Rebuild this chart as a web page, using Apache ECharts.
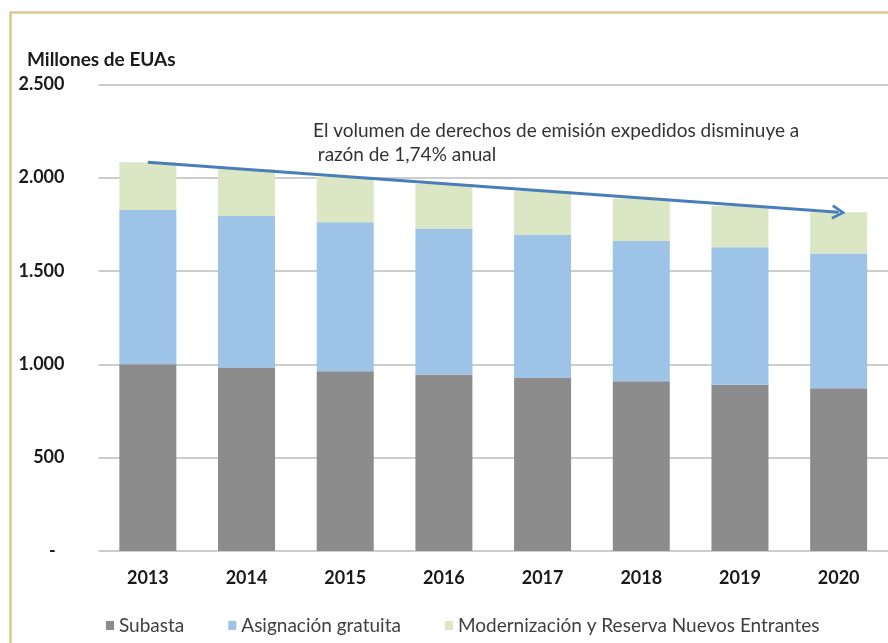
<!DOCTYPE html>
<html>
<head>
<meta charset="utf-8">
<script src="https://cdn.jsdelivr.net/npm/echarts@6/dist/echarts.min.js"></script>
<style>
html,body{margin:0;padding:0;background:#fff;}
#c{width:888px;height:643px;}
</style>
</head>
<body>
<div id="c"></div>
<script>
var categories = ['2013','2014','2015','2016','2017','2018','2019','2020'];
var subasta = [1000, 980, 963, 946, 927, 909, 891, 872];
var asignacion = [827, 815, 798, 781, 766, 752, 736, 721];
var modernizacion = [256, 250, 244, 239, 235, 227, 221, 221];
var yTicks = [0, 500, 1000, 1500, 2000, 2500];
var seriesNames = ['Subasta', 'Asignación gratuita', 'Modernización y Reserva Nuevos Entrantes'];
var titleText = 'Millones de EUAs';
var noteLines = ['El volumen de derechos de emisión expedidos disminuye a', ' razón de 1,74% anual'];

var totals = categories.map(function(c, i){ return subasta[i] + asignacion[i] + modernizacion[i]; });
var last = categories.length - 1;

function fmt(v){
  if (v === 0) return '-  ';
  var s = String(v);
  return s.length > 3 ? s.slice(0, s.length-3) + '.' + s.slice(s.length-3) : s;
}

var FONT = 'Lato, "Open Sans", sans-serif';
var chart = echarts.init(document.getElementById('c'), null, {renderer:'canvas'});
chart.setOption({
  animation: false,
  backgroundColor: '#fff',
  textStyle: {fontFamily: FONT},
  grid: {left: 98.5, right: -6.5, top: 84.3, bottom: 92, containLabel: false},
  legend: {
    data: seriesNames,
    left: 101, top: 611,
    icon: 'rect', itemWidth: 8, itemHeight: 9, itemGap: 44,
    textStyle: {fontFamily: FONT, fontSize: 19, color: '#404040'}
  },
  xAxis: {
    type: 'category', data: categories,
    axisLine: {show: false}, axisTick: {show: false},
    axisLabel: {margin: 18, fontFamily: FONT, fontSize: 18, fontWeight: 'bold', color: '#1a1a1a'}
  },
  yAxis: {
    type: 'value', min: 0, max: 2500, interval: 500,
    axisLine: {show: false}, axisTick: {show: false},
    splitLine: {lineStyle: {color: '#bdbdbd', width: 1.6}},
    axisLabel: {margin: 34, fontFamily: FONT, fontSize: 18, fontWeight: 'bold', color: '#1a1a1a',
      formatter: function(v){ return fmt(v); },
      customValues: yTicks}
  },
  series: [
    {name: seriesNames[0], type: 'bar', stack: 't', barWidth: 57, data: subasta,
     itemStyle: {color: '#8c8c8c'}},
    {name: seriesNames[1], type: 'bar', stack: 't', barWidth: 57, data: asignacion,
     itemStyle: {color: '#9dc3e6'}},
    {name: seriesNames[2], type: 'bar', stack: 't', barWidth: 57, data: modernizacion,
     itemStyle: {color: '#dbe6c4'},
     markLine: {
       silent: true, z: 10,
       symbol: ['none', 'path://M0,9 L5,0 L10,9 L8.4,10 L5,3.6 L1.6,10 Z'],
       symbolSize: [15, 14],
       label: {show: false},
       lineStyle: {color: '#4a7ebb', width: 3, type: 'solid'},
       data: [[{coord: [categories[0], totals[0]]}, {coord: [categories[last], totals[last]]}]]
     }}
  ],
  graphic: [
    {type: 'rect', left: 8, top: 10, shape: {x: 0, y: 0, width: 900, height: 700},
     style: {fill: 'none', stroke: '#dfc88e', lineWidth: 2.5}, z: 100, silent: true},
    {type: 'text', left: 27, top: 50,
     style: {text: titleText, font: 'bold 19px ' + FONT, fill: '#1a1a1a'}},
    {type: 'text', left: 313, top: 121,
     style: {text: noteLines[0], font: '19px ' + FONT, fill: '#333'}},
    {type: 'text', left: 313, top: 145,
     style: {text: noteLines[1], font: '19px ' + FONT, fill: '#333'}}
  ]
});
</script>
</body>
</html>
